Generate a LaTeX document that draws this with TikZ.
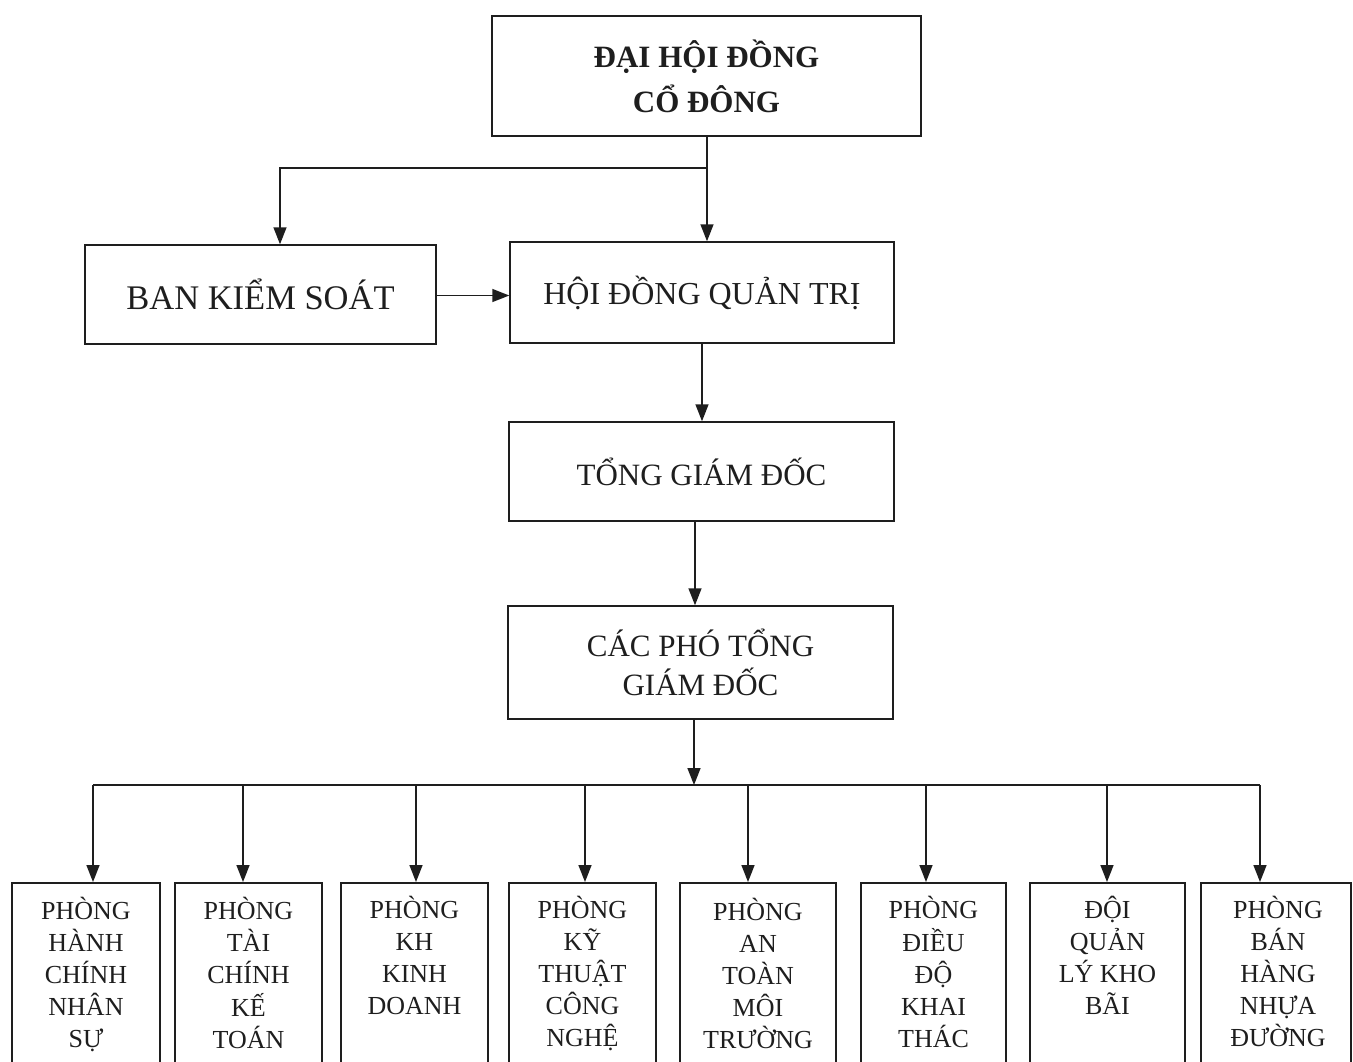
\documentclass[tikz,border=0pt]{standalone}
\usepackage{fontspec}
\setmainfont{Liberation Serif}
\usetikzlibrary{arrows.meta}
\definecolor{ink}{HTML}{1E1E1E}
\tikzset{
  box/.style={draw=ink, line width=1.5pt, rectangle, inner sep=0pt, text=ink},
  link/.style={draw=ink, line width=1.6pt},
  arrowlink/.style={link, -{Triangle[length=17pt,width=13pt]}},
  bkstext/.style={font=\fontsize{34.5}{39}\selectfont},
  bigtext/.style={font=\fontsize{32}{39}\selectfont},
  midtext/.style={font=\fontsize{31}{39}\selectfont},
  toptext/.style={font=\bfseries\fontsize{31}{45}\selectfont},
  smalltext/.style={inner sep=0pt, anchor=base, text=ink, font=\fontsize{26}{32}\selectfont},
}
\newcommand{\stackedlabel}[1]{\begin{tabular}[t]{@{}c@{}}#1\end{tabular}}
\begin{document}
\begin{tikzpicture}[x=1pt,y=-1pt]
\useasboundingbox (0,0) rectangle (1353,1061);
\clip (0,0) rectangle (1353,1061);

% main boxes
\node[box, minimum width=429pt, minimum height=120pt, toptext, align=center] (dhd) at (706.5,76) {ĐẠI HỘI ĐỒNG\\CỔ ĐÔNG};
\node[box, minimum width=351pt, minimum height=99pt, bkstext] (bks) at (260.5,294.5) {BAN KIỂM SOÁT};
\node[box, minimum width=384pt, minimum height=101pt, bigtext] (hdqt) at (702,292.5) {HỘI ĐỒNG QUẢN TRỊ};
\node[box, minimum width=385pt, minimum height=99pt, midtext] (tgd) at (701.5,471.5) {TỔNG GIÁM ĐỐC};
\node[box, minimum width=385pt, minimum height=113pt, midtext, align=center] (cpt) at (700.5,662.5) {CÁC PHÓ TỔNG\\GIÁM ĐỐC};

% bottom boxes
\node[box, minimum width=148pt, minimum height=200pt, anchor=north] (b1) at (86,882) {};
\node[box, minimum width=147pt, minimum height=200pt, anchor=north] (b2) at (248.5,882) {};
\node[box, minimum width=147pt, minimum height=200pt, anchor=north] (b3) at (414.5,882) {};
\node[box, minimum width=147pt, minimum height=200pt, anchor=north] (b4) at (582.5,882) {};
\node[box, minimum width=156pt, minimum height=200pt, anchor=north] (b5) at (758,882) {};
\node[box, minimum width=145pt, minimum height=200pt, anchor=north] (b6) at (933.5,882) {};
\node[box, minimum width=155pt, minimum height=200pt, anchor=north] (b7) at (1107.5,882) {};
\node[box, minimum width=150pt, minimum height=200pt, anchor=north] (b8) at (1276,882) {};

\node[smalltext] (t1) at (86,919.5) {\stackedlabel{PHÒNG\\HÀNH\\CHÍNH\\NHÂN\\SỰ}};
\node[smalltext] (t2) at (248.5,919.5) {\stackedlabel{PHÒNG\\TÀI\\CHÍNH\\KẾ\\TOÁN}};
\node[smalltext] (t3) at (414.5,918.5) {\stackedlabel{PHÒNG\\KH\\KINH\\DOANH}};
\node[smalltext] (t4) at (582.5,918.5) {\stackedlabel{PHÒNG\\KỸ\\THUẬT\\CÔNG\\NGHỆ}};
\node[smalltext] (t5) at (758,920.5) {\stackedlabel{PHÒNG\\AN\\TOÀN\\MÔI\\TRƯỜNG}};
\node[smalltext] (t6) at (933.5,918.5) {\stackedlabel{PHÒNG\\ĐIỀU\\ĐỘ\\KHAI\\THÁC}};
\node[smalltext] (t7) at (1107.5,918.5) {\stackedlabel{ĐỘI\\QUẢN\\LÝ KHO\\BÃI}};
\node[smalltext] (t8) at (1278,918.5) {\stackedlabel{PHÒNG\\BÁN\\HÀNG\\NHỰA\\ĐƯỜNG}};

% top connectors
\coordinate (j1) at (707,168);
\draw[arrowlink] ([xshift=0.5pt]dhd.south) -- ([xshift=0.5pt]dhd.south |- hdqt.north);
\draw[arrowlink] (j1) -| ([xshift=19.5pt]bks.north);
\draw[arrowlink] ([yshift=-1pt]bks.east) -- ([yshift=-1pt]bks.east -| hdqt.west);
\draw[arrowlink] (hdqt.south) -- (hdqt.south |- tgd.north);
\draw[arrowlink] ([xshift=-6.5pt]tgd.south) -- ([xshift=-6.5pt]tgd.south |- cpt.north);

% bus
\coordinate (bus) at (694,785);
\draw[arrowlink] ([xshift=-6.5pt]cpt.south) -- (bus);
\coordinate (d1) at (93,785);
\coordinate (d2) at (243,785);
\coordinate (d3) at (416,785);
\coordinate (d4) at (585,785);
\coordinate (d5) at (748,785);
\coordinate (d6) at (926,785);
\coordinate (d7) at (1107,785);
\coordinate (d8) at (1260,785);
\draw[link] (d1) -- (d8);
\draw[arrowlink] (d1) -- (d1 |- b1.north);
\draw[arrowlink] (d2) -- (d2 |- b2.north);
\draw[arrowlink] (d3) -- (d3 |- b3.north);
\draw[arrowlink] (d4) -- (d4 |- b4.north);
\draw[arrowlink] (d5) -- (d5 |- b5.north);
\draw[arrowlink] (d6) -- (d6 |- b6.north);
\draw[arrowlink] (d7) -- (d7 |- b7.north);
\draw[arrowlink] (d8) -- (d8 |- b8.north);
\end{tikzpicture}
\end{document}
